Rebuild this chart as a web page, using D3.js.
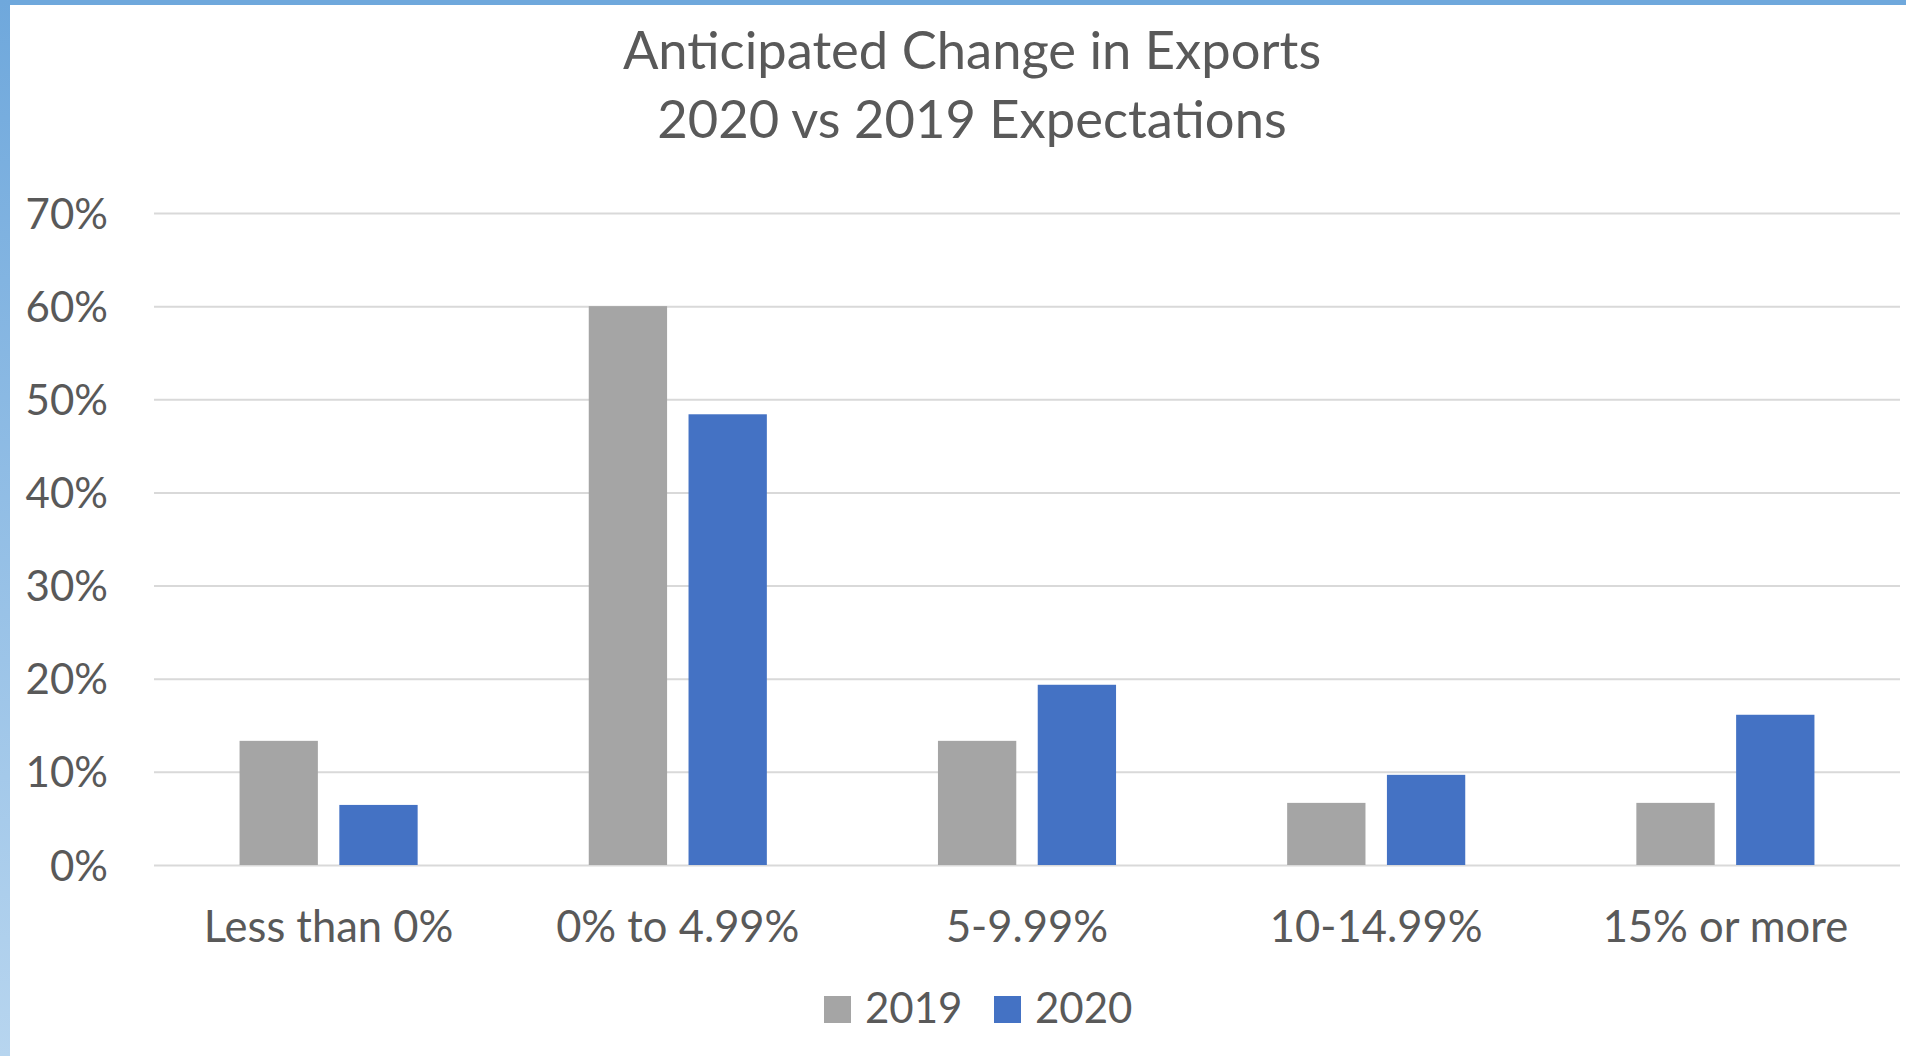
<!DOCTYPE html>
<html>
<head>
<meta charset="utf-8">
<script src="https://cdn.jsdelivr.net/npm/d3@7"></script>
<style>
  body { margin: 0; background: #fff; }
  svg text { font-family: Lato, "Open Sans", sans-serif; fill: #595959; }
</style>
</head>
<body>
<div id="chart"></div>
<script>
// chart data
var categories = ["Less than 0%", "0% to 4.99%", "5-9.99%", "10-14.99%", "15% or more"];
var seriesNames = ["2019", "2020"];
var values2019 = [0.1333, 0.60, 0.1333, 0.0667, 0.0667];
var values2020 = [0.0645, 0.4839, 0.1935, 0.0968, 0.1613];
var yTicks = [0, 0.1, 0.2, 0.3, 0.4, 0.5, 0.6, 0.7];
var colors = ["#a5a5a5", "#4472c4"];

var width = 1906,
    height = 1056;

var rows = categories.map(function(c, i) {
    return { cat: c, vals: [values2019[i], values2020[i]] };
});

var svg = d3.select("#chart").append("svg")
    .attr("width", width)
    .attr("height", height);

// frame (blue top edge and fading left edge)
var grad = svg.append("defs").append("linearGradient")
    .attr("id", "edge")
    .attr("x1", 0).attr("y1", 0).attr("x2", 0).attr("y2", 1);
grad.append("stop").attr("offset", "0%").attr("stop-color", "#6fa8dc");
grad.append("stop").attr("offset", "100%").attr("stop-color", "#b7d5ef");

svg.append("rect").attr("x", 0).attr("y", 0).attr("width", width).attr("height", 5).attr("fill", "#6fa8dc");
svg.append("rect").attr("x", 0).attr("y", 0).attr("width", 10).attr("height", height).attr("fill", "url(#edge)");

// scales
var x0 = d3.scaleBand()
    .domain(categories)
    .range([154, 1900])
    .paddingInner(0.49)
    .paddingOuter(0.245);

var x1 = d3.scaleBand()
    .domain(seriesNames)
    .range([0, x0.bandwidth()])
    .paddingInner(0.215);

var y = d3.scaleLinear()
    .domain([0, 0.7])
    .range([865, 213]);

// gridlines + y labels
var yAxis = svg.append("g")
    .attr("transform", "translate(154,0)")
    .call(d3.axisLeft(y)
        .tickValues(yTicks)
        .tickSize(-(1900 - 154))
        .tickPadding(46)
        .tickFormat(d3.format(".0%")));
yAxis.select(".domain").remove();
yAxis.selectAll("line").attr("stroke", "#d9d9d9").attr("stroke-width", 2);
yAxis.selectAll("text")
    .attr("font-size", 42)
    .attr("fill", "#595959")
    .attr("dy", "0.36em");

// bars
var groups = svg.append("g")
    .selectAll("g")
    .data(rows)
    .enter().append("g")
    .attr("transform", function(d) { return "translate(" + x0(d.cat) + ",0)"; });

groups.selectAll("rect")
    .data(function(d) {
        return d.vals.map(function(v, i) { return { key: seriesNames[i], value: v, i: i }; });
    })
    .enter().append("rect")
    .attr("x", function(d) { return x1(d.key); })
    .attr("y", function(d) { return y(d.value); })
    .attr("width", x1.bandwidth())
    .attr("height", function(d) { return y(0) - y(d.value); })
    .attr("fill", function(d) { return colors[d.i]; });

// x labels
var xAxis = svg.append("g")
    .attr("transform", "translate(0,865)")
    .call(d3.axisBottom(x0).tickSize(0).tickPadding(0));
xAxis.select(".domain").remove();
xAxis.selectAll("text")
    .attr("font-size", 43.5)
    .attr("fill", "#595959")
    .attr("dy", null)
    .attr("y", 77);

// title
var title = svg.append("text")
    .attr("text-anchor", "middle")
    .attr("font-size", 52.5);
title.append("tspan").attr("x", 972).attr("y", 69).text("Anticipated Change in Exports");
title.append("tspan").attr("x", 972).attr("y", 138).text("2020 vs 2019 Expectations");

// legend
var legend = svg.append("g");
var legendX = [824, 994];
seriesNames.forEach(function(s, i) {
    legend.append("rect")
        .attr("x", legendX[i])
        .attr("y", 996)
        .attr("width", 27)
        .attr("height", 27)
        .attr("fill", colors[i]);
    legend.append("text")
        .attr("x", legendX[i] + 41)
        .attr("y", 1023)
        .attr("font-size", 42)
        .text(s);
});
</script>
</body>
</html>
